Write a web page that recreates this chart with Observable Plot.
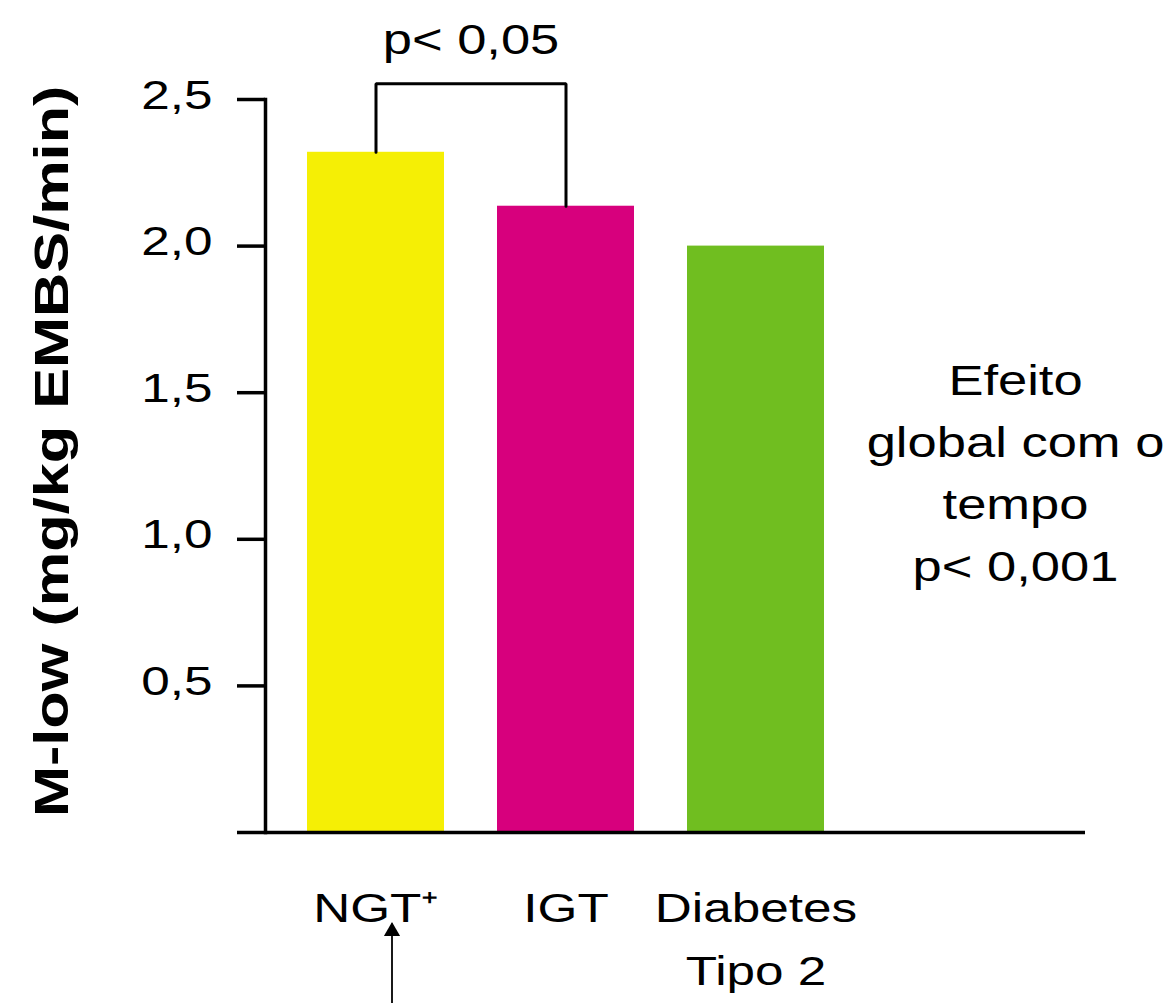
<!DOCTYPE html>
<html><head><meta charset="utf-8">
<script src="https://cdn.jsdelivr.net/npm/d3@7"></script>
<script src="https://cdn.jsdelivr.net/npm/@observablehq/plot@0.6"></script>
<style>body{margin:0;background:#fff}</style>
</head><body><div id="chart"></div>
<script>
// ---- data ----
const categories = ["NGT+", "IGT", "Diabetes Tipo 2"];
const categoryLabels = ["NGT⁺", "IGT", "Diabetes\nTipo 2"];
const values = [2.32, 2.136, 2.0];
const colors = ["#F5EF05", "#D7007D", "#70BE20"];
const yTicks = [0, 0.5, 1.0, 1.5, 2.0, 2.5];
const yTickLabels = ["", "0,5", "1,0", "1,5", "2,0", "2,5"];
const yLabel = "M-low (mg/kg EMBS/min)";
const yLabelAt = 1.3;
const bracketPair = ["NGT+", "IGT"];
const bracketLevel = 2.554;
const bracketText = "p< 0,05";
const noteText = "Efeito\nglobal com o\ntempo\np< 0,001";
const noteAt = 1.243;
const arrowCategory = "NGT+";
const arrowFrom = -0.6, arrowTo = -0.31;

// ---- derived tables ----
const data = categories.map((c, i) => ({category: c, label: categoryLabels[i], value: values[i], color: colors[i]}));
const tickData = yTicks.map((t, i) => ({value: t, label: yTickLabels[i]})).filter(d => d.label !== "");
const bracket = [
  {x: bracketPair[0], y: values[categories.indexOf(bracketPair[0])]},
  {x: bracketPair[0], y: bracketLevel},
  {x: bracketPair[1], y: bracketLevel},
  {x: bracketPair[1], y: values[categories.indexOf(bracketPair[1])]}
];
const arrow = [{category: arrowCategory, from: arrowFrom, to: arrowTo}];

const font = "'Liberation Sans', Arial, Helvetica, sans-serif";

const chart = Plot.plot({
  width: 1165, height: 1003,
  marginLeft: 265, marginRight: 80, marginTop: 99, marginBottom: 171,
  style: {fontFamily: font, background: "#fff", color: "#000", overflow: "visible"},
  x: {domain: categories, paddingInner: 0.281, paddingOuter: 0.7927, align: 0.139, axis: null},
  y: {domain: [0, 2.5], axis: null, label: null},
  color: {type: "identity"},
  marks: [
    Plot.barY(data, {x: "category", y: "value", fill: "color"}),
    Plot.frame({anchor: "left", stroke: "#000", strokeWidth: 3.5}),
    Plot.ruleY([0], {stroke: "#000", strokeWidth: 3.5}),
    Plot.axisY({ticks: yTicks, tickFormat: () => "", tickSize: 28, strokeWidth: 3.5, stroke: "#000", label: null}),
    Plot.text(tickData, {frameAnchor: "left", y: "value", text: "label", textAnchor: "end", dx: -53, dy: -4, fontSize: 41, fill: "#000"}),
    Plot.line(bracket, {x: "x", y: "y", stroke: "#000", strokeWidth: 3, strokeLinejoin: "miter", curve: "linear"}),
    Plot.text([bracketText], {x: () => bracketPair[0], y: () => bracketLevel, dx: 95, dy: -43, fontSize: 42, fill: "#000"}),
    Plot.text([noteText], {frameAnchor: "right", y: () => noteAt, dx: -70, fontSize: 42, lineHeight: 1.48, textAnchor: "middle", fill: "#000"}),
    Plot.text([yLabel], {frameAnchor: "left", y: () => yLabelAt, rotate: -90, dx: -213, textAnchor: "middle", fontSize: 49, fontWeight: "bold", fill: "#000"}),
    Plot.text(data, {x: "category", y: () => 0, text: "label", fontSize: 41, lineHeight: 1.54, lineAnchor: "top", dy: 45, fill: "#000"}),
    Plot.link(arrow, {x1: "category", x2: "category", y1: "from", y2: "to", dx: 16, stroke: "#000", strokeWidth: 1.8}),
    Plot.dot(arrow, {x: "category", y: "to", symbol: "triangle", r: 6, fill: "#000", stroke: null, dx: 16, dy: 8})
  ]
});

document.getElementById("chart").append(chart);

// the reference's lettering is horizontally widened; stretch glyphs along the baseline
const stretch = 1.25;
chart.querySelectorAll("text").forEach(t => {
  const spans = t.querySelectorAll("tspan");
  const targets = spans.length ? Array.from(spans) : [t];
  targets.forEach(el => {
    const len = el.getComputedTextLength();
    if (len > 0) {
      el.setAttribute("textLength", len * stretch);
      el.setAttribute("lengthAdjust", "spacingAndGlyphs");
    }
  });
});
</script>
</body></html>
